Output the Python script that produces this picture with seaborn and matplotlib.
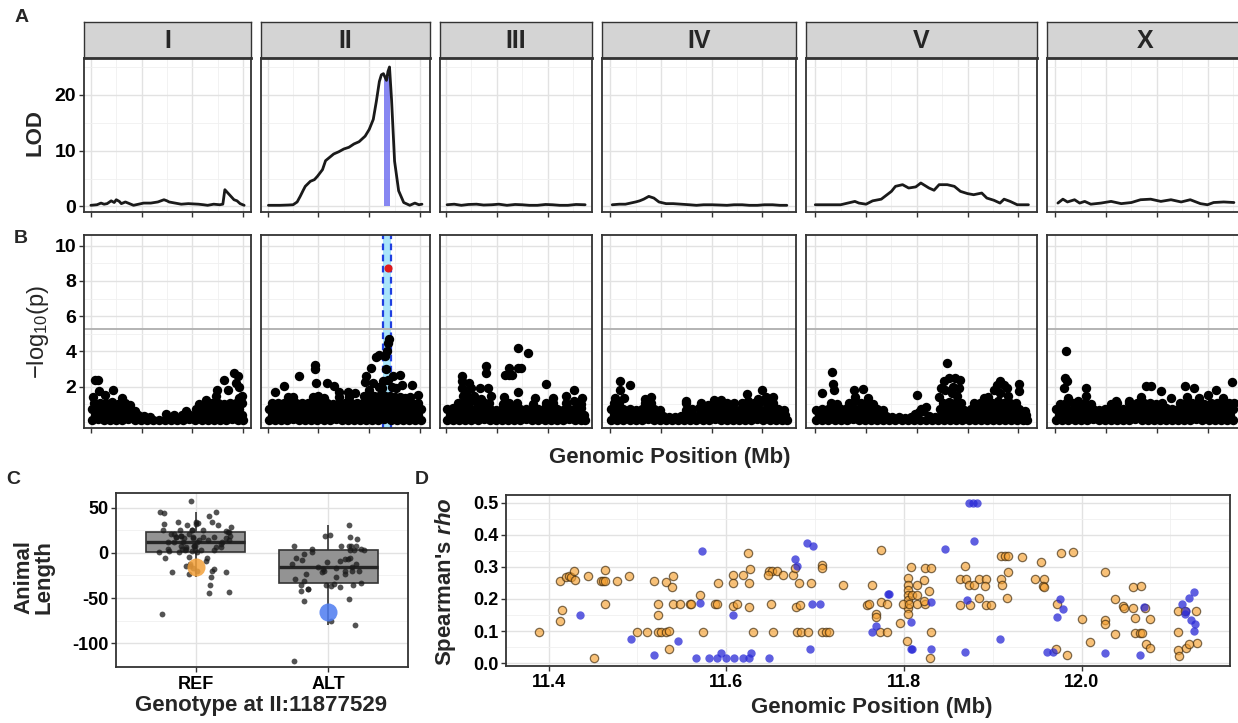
import numpy as np
import pandas as pd
import matplotlib
matplotlib.use("Agg")
import matplotlib.pyplot as plt
import seaborn as sns
from matplotlib.ticker import MultipleLocator, FormatStrFormatter

# ---------------- data ----------------
chroms = ["I", "II", "III", "IV", "V", "X"]
chrom_len = [15.07, 15.28, 13.78, 17.49, 20.92, 17.72]

# panel A: LOD profiles (Mb, LOD)
lod_I = [(0.0, .2), (0.6, .3), (1.0, .6), (1.3, .4), (1.6, .5), (2.0, 1.0), (2.3, .7), (2.5, 1.2),
         (2.8, .9), (3.0, .5), (3.4, .8), (3.8, .5), (4.2, .2), (4.7, .4), (5.2, .6), (5.9, .6), (6.6, .8),
         (7.2, 1.2), (7.5, 1.0), (7.7, .8), (8.3, .6), (8.9, .4), (9.6, .5), (10.6, .4), (11.1, .3),
         (11.5, .2), (12.1, .4), (12.7, .3), (13.0, .4), (13.2, 3.0), (13.5, 2.4), (13.7, 2.0), (14.1, 1.2),
         (14.4, 1.0), (14.7, .5), (15.1, .2)]
lod_II = [(0.07, .2), (1.2, .2), (2.0, .25), (2.5, .3), (2.9, .8), (3.2, 1.8), (3.5, 2.9), (3.7, 3.6),
          (4.2, 4.5), (4.6, 4.8), (4.9, 5.4), (5.4, 6.6), (5.7, 8.2), (6.1, 8.8), (6.5, 9.4), (7.0, 9.8),
          (7.5, 10.3), (8.0, 10.6), (8.5, 11.2), (9.0, 11.6), (9.6, 12.6), (10.0, 13.8), (10.4, 15.6),
          (10.7, 18.8), (11.0, 22.4), (11.2, 23.6), (11.4, 23.8), (11.7, 22.6), (11.85, 24.2), (12.0, 25.0),
          (12.2, 19.2), (12.5, 8.1), (12.9, 2.8), (13.4, .7), (14.0, .2), (14.5, .6), (14.9, .3), (15.2, .4)]
lod_III = [(0.1, .3), (0.8, .4), (1.5, .2), (2.2, .35), (3.0, .4), (3.7, .25), (4.5, .3), (5.2, .4),
           (6.0, .2), (6.8, .35), (7.5, .3), (8.2, .2), (9.0, .2), (9.8, .35), (10.5, .3), (11.2, .2),
           (12.0, .2), (12.8, .35), (13.7, .3)]
lod_IV = [(0.2, .3), (0.9, .4), (1.5, .4), (2.0, .6), (2.5, .8), (2.9, 1.0), (3.3, 1.3), (3.8, 1.8),
          (4.3, 1.5), (4.8, .8), (5.5, .5), (6.2, .5), (7.0, .4), (7.8, .3), (8.5, .2), (9.2, .3),
          (10.0, .3), (10.8, .25), (11.5, .2), (12.2, .3), (13.0, .3), (13.7, .2), (14.5, .2), (15.2, .3),
          (16.0, .3), (16.7, .2), (17.4, .2)]
lod_V = [(0.0, .3), (2.5, .3), (3.9, .9), (4.3, .6), (5.0, .4), (5.65, 1.0), (6.5, 1.3), (7.5, 2.7),
         (7.9, 3.6), (8.6, 3.9), (9.2, 3.3), (9.9, 3.5), (10.4, 4.2), (11.2, 3.3), (11.7, 2.9), (12.2, 3.9),
         (13.0, 3.9), (13.7, 3.6), (14.3, 2.7), (15.0, 2.3), (15.6, 2.1), (16.4, 2.4), (16.9, 1.5),
         (17.6, 1.1), (18.2, .6), (18.6, 1.3), (19.2, .9), (19.9, .3), (21.0, .3)]
lod_X = [(0.26, .6), (0.75, 1.3), (1.2, .8), (1.9, 1.2), (2.4, .6), (2.9, .9), (3.5, .4), (4.5, .6),
         (5.5, .9), (6.5, .5), (7.5, .7), (8.4, 1.2), (9.4, 1.3), (10.4, .9), (11.4, 1.2), (12.4, .8),
         (13.3, 1.2), (14.3, .5), (15.0, .3), (15.6, .7), (16.6, .8), (17.6, .7)]
lod_profiles = [lod_I, lod_II, lod_III, lod_IV, lod_V, lod_X]
qtl_ci = (11.5, 12.0)
qtl_lod = 23.2

# panel B: marker associations (Mb, -log10 p)
snps_I = [(0.1, .12), (0.7, .15), (1.3, .1), (1.9, .14), (2.5, .12), (3.1, .1), (3.7, .16), (4.3, .11),
          (4.9, .13), (5.5, .1), (6.1, .12), (6.7, .09), (7.3, .14), (7.9, .11), (8.5, .13), (9.1, .1),
          (9.7, .15), (10.3, .12), (10.9, .1), (11.5, .14), (12.1, .11), (12.7, .13), (13.3, .1),
          (13.9, .15), (14.5, .12), (15.0, .1),
          (0.4, .42), (1.0, .38), (1.6, .45), (2.2, .4), (2.8, .36), (3.4, .43), (4.0, .4), (4.6, .38),
          (5.2, .35), (5.8, .3), (7.4, .48), (8.2, .38), (9.0, .42), (9.6, .45), (10.2, .4), (10.8, .44),
          (11.4, .38), (12.0, .42), (12.6, .4), (13.2, .45), (13.8, .4), (14.4, .43), (14.9, .38),
          (0.1, .75), (0.7, .7), (1.3, .78), (1.9, .72), (2.5, .75), (3.1, .7), (3.7, .8), (4.3, .65),
          (9.4, .6), (10.4, .75), (11.0, .78), (11.6, .72), (12.2, .76), (12.8, .7), (13.4, .78),
          (14.0, .74), (14.6, .72),
          (0.3, 1.05), (0.9, 1.1), (1.5, 1.08), (2.1, 1.12), (2.7, 1.0), (3.4, 1.05), (3.9, .95),
          (10.7, 1.0), (11.3, 1.1), (11.9, 1.05), (12.5, 1.1), (13.1, 1.0), (13.7, 1.1), (14.3, 1.05),
          (14.9, 1.1),
          (0.2, 1.4), (0.8, 1.75), (1.4, 1.55), (2.2, 1.8), (3.1, 1.35), (11.3, 1.25), (12.3, 1.45),
          (12.4, 1.8), (13.5, 1.8), (0.45, 2.4), (0.75, 2.4), (13.1, 2.4), (14.1, 2.75), (14.3, 2.2),
          (14.45, 2.6), (14.6, 2.0), (14.9, 1.5), (14.6, 1.35)]
snps_II = [(0.1, .1), (0.7, .14), (1.3, .12), (1.9, .09), (2.5, .15), (3.1, .11), (3.7, .13), (4.3, .1),
           (4.9, .14), (5.5, .12), (6.1, .1), (6.7, .15), (7.3, .12), (7.9, .1), (8.5, .13), (9.1, .11),
           (9.7, .14), (10.3, .1), (10.9, .12), (11.5, .15), (12.1, .11), (12.7, .13), (13.3, .1),
           (13.9, .14), (14.5, .12), (15.1, .1),
           (0.4, .42), (1.0, .4), (1.6, .45), (2.2, .38), (2.8, .43), (3.4, .4), (4.0, .44), (4.6, .39),
           (5.2, .42), (5.8, .45), (6.4, .4), (7.0, .43), (7.6, .38), (8.2, .42), (8.8, .45), (9.4, .4),
           (10.0, .43), (10.6, .41), (11.2, .44), (11.8, .4), (12.4, .42), (13.0, .45), (13.6, .39),
           (14.2, .43), (14.8, .4),
           (0.1, .75), (0.7, .72), (1.3, .78), (1.9, .74), (2.5, .7), (3.1, .77), (3.7, .73), (4.3, .76),
           (4.9, .72), (5.5, .78), (6.1, .74), (6.7, .7), (7.3, .76), (7.9, .73), (8.5, .77), (9.1, .72),
           (9.7, .75), (10.3, .78), (10.9, .74), (11.5, .76), (12.1, .72), (12.7, .77), (13.3, .74),
           (13.9, .7), (14.5, .76), (15.1, .72),
           (0.4, 1.08), (1.0, 1.05), (1.6, 1.1), (2.2, 1.04), (2.8, 1.1), (3.4, 1.06), (4.0, 1.1),
           (4.6, 1.05), (5.2, 1.08), (5.8, 1.1), (6.4, 1.04), (7.0, 1.08), (7.6, 1.1), (8.2, 1.06),
           (8.8, 1.1), (9.4, 1.05), (10.0, 1.08), (10.6, 1.1), (11.2, 1.05), (11.8, 1.1), (12.4, 1.06),
           (13.0, 1.1), (13.6, 1.04), (14.2, 1.08), (14.8, 1.05),
           (2.0, 1.4), (2.5, 1.44), (4.5, 1.4), (5.0, 1.45), (5.5, 1.38), (7.0, 1.4), (8.0, 1.42),
           (9.5, 1.45), (10.0, 1.4), (10.5, 1.5), (11.0, 1.45), (11.6, 1.5), (12.0, 1.45), (12.5, 1.4),
           (13.0, 1.44), (13.5, 1.38), (14.0, 1.4),
           (0.7, 1.7), (1.6, 2.06), (3.1, 2.58), (4.7, 3.24), (4.7, 2.99), (4.8, 2.2), (5.8, 2.2),
           (6.5, 2.06), (7.0, 1.72), (7.9, 1.72), (8.6, 1.63), (9.6, 2.25), (9.7, 2.58), (10.2, 3.05),
           (10.65, 3.7), (11.0, 3.8), (11.6, 3.75), (11.8, 4.0), (11.86, 4.47), (11.93, 4.7),
           (12.35, 2.58), (13.0, 2.67), (13.2, 2.1), (14.2, 2.1), (14.8, 1.53), (10.0, 1.8), (10.4, 2.2),
           (11.0, 2.0), (11.4, 2.3), (11.9, 2.4), (12.2, 2.0), (12.6, 1.9), (11.7, 3.0), (11.3, 1.9)]
snps_III = [(0.1, .12), (0.7, .1), (1.3, .14), (1.9, .11), (2.5, .13), (3.1, .1), (3.7, .15), (4.3, .12),
            (4.9, .1), (5.5, .14), (6.1, .11), (6.7, .13), (7.3, .1), (7.9, .15), (8.5, .12), (9.1, .1),
            (9.7, .14), (10.3, .11), (10.9, .13), (11.5, .1), (12.1, .15), (12.7, .12), (13.3, .1),
            (13.7, .13),
            (0.4, .42), (1.0, .45), (1.6, .4), (2.2, .44), (2.8, .38), (3.4, .43), (4.0, .4), (4.6, .45),
            (5.2, .41), (5.8, .39), (6.4, .44), (7.0, .4), (7.6, .43), (8.2, .38), (8.8, .42), (9.4, .45),
            (10.0, .4), (10.6, .43), (11.2, .39), (11.8, .44), (12.4, .41), (13.0, .43), (13.6, .4),
            (0.1, .72), (0.7, .78), (1.3, .75), (1.9, .8), (2.5, .74), (3.1, .78), (3.7, .72), (4.3, .76),
            (4.9, .7), (5.5, .74), (6.1, .68), (6.7, .75), (7.3, .72), (7.9, .76), (8.5, .7), (9.1, .74),
            (9.7, .78), (10.3, .72), (10.9, .75), (11.5, .7), (12.1, .76), (12.7, .73), (13.3, .78),
            (1.2, 1.05), (1.8, 1.1), (2.4, 1.2), (3.0, 1.1), (3.6, 1.15), (4.2, 1.05), (5.6, 1.0),
            (6.2, 1.05), (7.0, 1.1), (8.6, 1.0), (9.8, 1.05), (10.5, 1.1), (11.8, 1.1), (12.6, 1.2),
            (13.3, 1.0),
            (1.6, 2.6), (1.6, 2.3), (1.6, 1.9), (1.7, 1.5), (2.3, 2.2), (2.45, 1.9), (3.3, 1.9), (3.4, 1.3),
            (3.9, 3.2), (3.9, 2.8), (4.1, 1.9), (4.4, 1.5), (5.7, 1.44), (5.8, 2.67), (6.2, 2.67),
            (6.5, 2.67), (6.2, 3.05), (7.1, 4.2), (7.1, 3.05), (7.35, 3.05), (7.1, 1.7), (8.1, 3.9),
            (8.8, 1.35), (9.8, 2.15), (10.5, 1.35), (11.8, 1.45), (12.6, 1.8), (13.4, 1.35), (2.0, 1.6),
            (2.8, 1.5)]
snps_IV = [(0.1, .12), (0.7, .1), (1.3, .14), (1.9, .11), (2.5, .13), (3.1, .1), (3.7, .15), (4.3, .12),
           (4.9, .1), (5.5, .13), (6.1, .1), (6.7, .12), (7.3, .11), (7.9, .14), (8.5, .1), (9.1, .13),
           (9.7, .11), (10.3, .15), (10.9, .12), (11.5, .1), (12.1, .14), (12.7, .11), (13.3, .13),
           (13.9, .1), (14.5, .15), (15.1, .12), (15.7, .1), (16.3, .14), (16.9, .11), (17.4, .13),
           (0.4, .42), (1.0, .45), (1.6, .4), (2.2, .43), (2.8, .38), (3.4, .44), (4.0, .4), (4.6, .42),
           (5.2, .36), (5.8, .3), (6.4, .28), (7.0, .35), (7.6, .42), (8.2, .4), (8.8, .44), (9.4, .41),
           (10.0, .45), (10.6, .4), (11.2, .43), (11.8, .39), (12.4, .44), (13.0, .41), (13.6, .45),
           (14.2, .4), (14.8, .43), (15.4, .39), (16.0, .44), (16.6, .41), (17.2, .4),
           (0.1, .75), (0.7, .78), (1.3, .72), (1.9, .76), (2.5, .7), (3.1, .74), (3.7, .78), (4.3, .72),
           (4.9, .68), (7.5, .7), (8.1, .74), (8.7, .78), (9.3, .72), (9.9, .75), (10.5, .78), (11.1, .72),
           (11.7, .76), (12.3, .7), (12.9, .75), (13.5, .78), (14.1, .72), (14.7, .76), (15.3, .74),
           (15.9, .78), (16.5, .72), (17.1, .7),
           (0.4, 1.05), (0.9, 1.1), (3.4, 1.1), (4.0, 1.05), (7.5, 1.05), (8.9, 1.06), (10.2, 1.05),
           (10.9, 1.1), (11.5, 1.08), (12.2, 1.05), (13.0, 1.1), (13.6, 1.2), (14.2, 1.05), (14.8, 1.15),
           (15.4, 1.1), (16.0, 1.05),
           (1.0, 2.3), (1.0, 1.8), (1.9, 2.1), (0.5, 1.35), (1.4, 1.35), (3.4, 1.3), (4.0, 1.44),
           (7.5, 1.2), (10.2, 1.25), (10.9, 1.25), (13.5, 1.57), (15.0, 1.8), (16.0, 1.44), (15.3, 1.4),
           (14.6, 1.3), (9.6, .95)]
snps_V = [(0.1, .12), (0.7, .1), (1.3, .14), (1.9, .11), (2.5, .13), (3.1, .1), (3.7, .15), (4.3, .12),
          (4.9, .1), (5.5, .14), (6.1, .11), (6.7, .13), (7.3, .1), (7.9, .14), (8.5, .12), (9.1, .1),
          (9.7, .13), (10.3, .11), (10.9, .14), (11.5, .12), (12.1, .1), (12.7, .13), (13.3, .11),
          (13.9, .14), (14.5, .1), (15.1, .13), (15.7, .11), (16.3, .14), (16.9, .12), (17.5, .1),
          (18.1, .13), (18.7, .11), (19.3, .14), (19.9, .12), (20.5, .1), (20.9, .13),
          (0.4, .42), (1.0, .45), (1.6, .4), (2.2, .43), (2.8, .4), (3.4, .44), (4.0, .41), (4.6, .45),
          (5.2, .4), (5.8, .43), (6.4, .38), (7.0, .35), (7.6, .3), (8.2, .26), (8.8, .25), (9.4, .3),
          (9.8, .45), (10.2, .55), (10.6, .62), (11.2, .35), (11.8, .3), (12.4, .4), (13.0, .45),
          (13.6, .42), (14.2, .4), (14.8, .44), (15.4, .41), (16.0, .45), (16.6, .4), (17.2, .43),
          (17.8, .4), (18.4, .44), (19.0, .41), (19.6, .45), (20.2, .4), (20.8, .42),
          (0.1, .7), (0.7, .76), (1.3, .72), (1.9, .78), (2.5, .74), (3.1, .78), (3.7, .72), (4.3, .76),
          (4.9, .74), (5.5, .78), (6.1, .72), (6.7, .7), (10.4, .75), (10.9, .85), (12.3, .75),
          (12.9, .78), (13.5, .72), (14.1, .76), (14.7, .7), (15.3, .74), (15.9, .78), (16.5, .72),
          (17.1, .76), (17.7, .74), (18.3, .78), (18.9, .72), (19.5, .76), (20.1, .74), (20.7, .6),
          (1.5, 1.1), (2.1, 1.0), (3.3, 1.1), (3.9, 1.2), (4.5, 1.05), (5.1, 1.1), (5.7, 1.0),
          (12.6, 1.1), (13.2, 1.15), (13.8, 1.05), (14.4, 1.1), (15.6, 1.05), (16.2, 1.1), (16.8, 1.15),
          (17.4, 1.1), (18.0, 1.2), (18.6, 1.05), (19.2, 1.1), (19.8, 1.05),
          (0.65, 1.63), (1.6, 2.86), (1.7, 2.14), (1.8, 1.8), (3.8, 1.8), (4.7, 1.87), (3.9, 1.4),
          (5.2, 1.35), (10.0, 1.53), (12.2, 1.44), (12.35, 1.9), (13.0, 3.33), (12.7, 2.3), (13.2, 2.5),
          (13.8, 2.5), (14.3, 2.4), (13.5, 1.63), (14.0, 1.5), (12.8, 1.8), (13.6, 2.0), (14.2, 1.9),
          (16.6, 1.35), (17.6, 1.8), (18.2, 2.35), (17.9, 2.1), (18.6, 2.1), (18.9, 1.9), (18.2, 1.67),
          (20.1, 2.16), (20.1, 1.76), (17.0, 1.4), (19.0, 1.45)]
snps_X = [(0.1, .12), (0.7, .1), (1.3, .14), (1.9, .11), (2.5, .13), (3.1, .1), (3.7, .15), (4.3, .12),
          (4.9, .1), (5.5, .14), (6.1, .11), (6.7, .13), (7.3, .1), (7.9, .15), (8.5, .12), (9.1, .1),
          (9.7, .14), (10.3, .11), (10.9, .13), (11.5, .1), (12.1, .14), (12.7, .12), (13.3, .1),
          (13.9, .15), (14.5, .11), (15.1, .13), (15.7, .1), (16.3, .14), (16.9, .12), (17.5, .1),
          (0.4, .42), (1.0, .45), (1.6, .4), (2.2, .43), (2.8, .38), (3.4, .44), (4.0, .4), (4.6, .42),
          (5.2, .39), (5.8, .45), (6.4, .4), (7.0, .43), (7.6, .41), (8.2, .44), (8.8, .4), (9.4, .45),
          (10.0, .41), (10.6, .43), (11.2, .4), (11.8, .44), (12.4, .39), (13.0, .45), (13.6, .41),
          (14.2, .43), (14.8, .4), (15.4, .44), (16.0, .41), (16.6, .45), (17.2, .4),
          (0.1, .72), (0.7, .76), (1.3, .7), (1.9, .78), (2.5, .74), (3.1, .76), (3.7, .72), (4.3, .7),
          (4.9, .74), (5.5, .78), (6.1, .72), (6.7, .76), (7.3, .74), (7.9, .78), (8.5, .72), (9.1, .76),
          (9.7, .7), (10.3, .74), (10.9, .78), (11.5, .72), (12.1, .76), (12.7, .74), (13.3, .78),
          (13.9, .72), (14.5, .76), (15.1, .7), (15.7, .74), (16.3, .78), (16.9, .72), (17.5, .76),
          (0.5, 1.0), (1.1, 1.05), (1.7, 1.1), (2.3, 1.0), (2.9, 1.1), (3.5, 1.0), (5.5, 1.0), (6.1, 1.1),
          (7.3, 1.05), (8.1, 1.1), (8.7, 1.05), (9.3, 1.1), (9.9, 1.0), (10.5, 1.1), (12.3, 1.05),
          (12.9, 1.1), (13.5, 1.05), (14.1, 1.1), (14.7, 1.0), (15.3, 1.1), (15.9, 1.05), (16.5, 1.1),
          (17.1, 1.05), (17.6, 1.1),
          (1.1, 4.05), (1.0, 2.5), (1.15, 2.3), (0.9, 1.9), (1.25, 1.35), (3.0, 1.9), (3.0, 1.5),
          (6.0, 1.2), (7.3, 1.2), (8.4, 1.44), (8.9, 2.06), (9.4, 2.06), (10.4, 1.78), (11.4, 1.35),
          (12.8, 2.06), (13.7, 1.9), (13.0, 1.44), (15.0, 1.53), (15.8, 1.8), (17.4, 2.25), (2.2, 1.2),
          (16.5, 1.35), (14.2, 1.35)]
snp_sets = [snps_I, snps_II, snps_III, snps_IV, snps_V, snps_X]
top_snp = (11.88, 8.73)
bonferroni = 5.28
ci_region = (11.37, 12.12)

# panel C: animal length by genotype at the top marker
genotypes = ["REF", "ALT"]
ref_len = [44, 45, 57, 34, 28, 33, 32, 32, 34, 34, 41, 31, 31, 25, 25, 24, 21, 25, 23, 45, 25, 23, 17, 14,
           16, 12, 12, 17, 14, 16, 12, 8, 6, 8, 4, 10, 6, 4, 3, 1, 2, 3, -6, -14, -17, -20, -23, -21, -21,
           -18, -14, -12, -9, 0.5, -5, 1, -6, -27, -20, -36, -43, -44, -67, 19, 17, 17, 19, 14, 12, 8, 6,
           4, 8, 17, 3, 3, 2, 16, 12, 19, 21, 21, 25]
alt_len = [7, 17, 20, 19, 31, 15, 8, 8, 4, 7, 7, 4, -10, -6, -7, -8, -9, -6, -16, -20, -18, -17, -20, -16,
           -7, -12, -21, -35, -29, -37, -27, -36, -33, -35, -40, -38, -42, -40, -34, -53, -51, -80, -119,
           -75, 3, 3, 1, -1, -12, -20, -23, -20, -23, 3, -31]
strain_len = [-15.5, -65]

# panel D: Spearman's rho along the interval
rho_orange = [(11.389, .096), (11.413, .257), (11.419, .269), (11.423, .270), (11.425, .267), (11.428, .287),
              (11.430, .259), (11.415, .164), (11.413, .131), (11.444, .270), (11.451, .015), (11.459, .257),
              (11.461, .257), (11.463, .257), (11.464, .291), (11.463, .184), (11.477, .257), (11.491, .270),
              (11.500, .096), (11.511, .096), (11.519, .257), (11.523, .184), (11.523, .149), (11.523, .096),
              (11.526, .096), (11.532, .096), (11.535, .100), (11.532, .252), (11.540, .270), (11.539, .236),
              (11.535, .043), (11.540, .184), (11.548, .184), (11.559, .184), (11.560, .184), (11.570, .213),
              (11.574, .096), (11.587, .184), (11.590, .184), (11.591, .251), (11.607, .275), (11.608, .249),
              (11.607, .177), (11.624, .342), (11.627, .294), (11.619, .275), (11.625, .251), (11.612, .184),
              (11.625, .174), (11.630, .096), (11.648, .287), (11.651, .287), (11.647, .275), (11.657, .287),
              (11.664, .275), (11.675, .275), (11.677, .295), (11.682, .251), (11.695, .251), (11.650, .184),
              (11.679, .174), (11.683, .180), (11.652, .096), (11.680, .096), (11.684, .096), (11.692, .096),
              (11.708, .306), (11.708, .295), (11.708, .096), (11.712, .096), (11.716, .096), (11.731, .245),
              (11.764, .245), (11.774, .354), (11.758, .180), (11.761, .184), (11.774, .190), (11.781, .184),
              (11.768, .154), (11.768, .144), (11.773, .096), (11.781, .096), (11.795, .126), (11.803, .070),
              (11.808, .300), (11.804, .265), (11.804, .244), (11.805, .229), (11.804, .213), (11.805, .198),
              (11.805, .172), (11.804, .152), (11.799, .184), (11.806, .184), (11.815, .184), (11.824, .184),
              (11.815, .244), (11.809, .213), (11.815, .213), (11.823, .259), (11.828, .224), (11.824, .295),
              (11.830, .295), (11.830, .096), (11.829, .015), (11.822, .193),
              (11.869, .304), (11.863, .263), (11.870, .263), (11.873, .244), (11.879, .244), (11.884, .263),
              (11.892, .263), (11.891, .241), (11.885, .203), (11.863, .180), (11.874, .180), (11.892, .180),
              (11.898, .180), (11.909, .334), (11.914, .334), (11.917, .334), (11.933, .330), (11.954, .314),
              (11.977, .342), (11.990, .345), (11.917, .285), (11.909, .263), (11.910, .244), (11.916, .203),
              (11.948, .263), (11.958, .263), (11.956, .239), (11.958, .236), (11.972, .183), (12.000, .138),
              (12.009, .067), (11.984, .026), (11.971, .044), (12.026, .284), (12.026, .133), (12.026, .121),
              (12.038, .201), (12.038, .090), (12.046, .177), (12.048, .172), (12.058, .172), (12.058, .236),
              (12.067, .239), (12.060, .142), (12.077, .136), (12.060, .093), (12.066, .093), (12.068, .093),
              (12.073, .059), (12.077, .047), (12.071, .172), (12.109, .162), (12.116, .162), (12.129, .162),
              (12.109, .096), (12.130, .064), (12.108, .041), (12.117, .047), (12.121, .059), (12.110, .021)]
rho_blue = [(11.573, .350), (11.570, .186), (11.435, .150), (11.493, .074), (11.519, .026), (11.546, .070),
            (11.566, .015), (11.580, .015), (11.590, .015), (11.600, .015), (11.609, .015), (11.594, .033),
            (11.607, .150), (11.619, .015), (11.625, .015), (11.648, .015), (11.628, .033), (11.691, .374),
            (11.698, .365), (11.677, .323), (11.680, .304), (11.697, .184), (11.705, .184), (11.694, .043),
            (11.782, .215), (11.783, .215), (11.764, .098), (11.768, .116), (11.808, .129), (11.808, .043),
            (11.809, .043), (11.830, .043), (11.830, .190), (11.846, .356), (11.873, .50), (11.878, .50),
            (11.882, .50), (11.879, .382), (11.871, .197), (11.908, .074), (11.869, .035), (11.961, .035),
            (11.968, .035), (11.976, .201), (11.979, .170), (11.972, .145), (12.026, .031), (12.066, .024),
            (12.070, .174), (12.113, .183), (12.116, .154), (12.121, .203), (12.126, .221), (12.123, .133),
            (12.128, .121), (12.126, .101), (12.117, .162)]

# ---------------- style ----------------
sns.set_theme(style="white")
plt.rcParams["font.family"] = ["Liberation Sans", "DejaVu Sans"]
plt.rcParams["font.weight"] = "bold"
plt.rcParams["axes.unicode_minus"] = False
plt.rcParams["mathtext.fontset"] = "custom"
plt.rcParams["mathtext.rm"] = "Liberation Sans:normal"
plt.rcParams["mathtext.it"] = "Liberation Sans:italic:bold"

W, H = 1238, 723
EDGE = "#333333"
fig = plt.figure(figsize=(W / 100, H / 100), dpi=100)


def box(l, t, r, b):
    return [l / W, 1 - b / H, (r - l) / W, (b - t) / H]


def theme(ax, size):
    ax.set_facecolor("white")
    for sp in ax.spines.values():
        sp.set_visible(True)
        sp.set_color(EDGE)
        sp.set_linewidth(1.3)
    ax.grid(True, which="major", color="#e2e2e2", lw=1.0)
    ax.grid(True, which="minor", color="#f0f0f0", lw=0.6)
    ax.set_axisbelow(True)
    ax.tick_params(which="major", direction="out", length=3.5, width=1, color=EDGE,
                   labelsize=size, labelcolor="black", pad=2, bottom=True, left=True)
    ax.tick_params(which="minor", length=0)
    ax.set_xlabel("")
    ax.set_ylabel("")


def ftext(x, y, s, **kw):
    fig.text(x / W, 1 - y / H, s, ha="center", va="center", **kw)


# ---------------- panels A + B ----------------
x0 = 84
for i, (name, L) in enumerate(zip(chroms, chrom_len)):
    x1 = x0 + L * 1.09 * 10.15
    lim = (-0.045 * L, 1.045 * L)

    strip = fig.add_axes(box(x0, 22.5, x1, 57.5))
    strip.set_facecolor("#d4d4d4")
    strip.set_xticks([]); strip.set_yticks([])
    for sp in strip.spines.values():
        sp.set_color(EDGE); sp.set_linewidth(1.0)
    strip.text(0.5, 0.47, name, transform=strip.transAxes, ha="center", va="center",
               fontsize=18, fontweight="bold")

    # A: LOD
    axA = fig.add_axes(box(x0, 57.5, x1, 212))
    lod = pd.DataFrame(lod_profiles[i], columns=["pos", "lod"])
    if name == "II":
        axA.fill_between(list(qtl_ci), 0, qtl_lod, color="#7272f0", alpha=0.85, lw=0, zorder=2)
    sns.lineplot(data=lod, x="pos", y="lod", ax=axA, color="#1a1a1a", lw=2.0,
                 estimator=None, sort=False, zorder=3)
    theme(axA, 14)
    axA.set_xlim(lim)
    axA.set_ylim(-1.0, 26.7)
    axA.set_yticks([0, 10, 20])
    axA.yaxis.set_minor_locator(MultipleLocator(5))
    axA.xaxis.set_major_locator(MultipleLocator(5))
    axA.xaxis.set_minor_locator(MultipleLocator(2.5))
    axA.tick_params(labelbottom=False)
    axA.spines["top"].set_linewidth(2.0)
    if i > 0:
        axA.tick_params(labelleft=False, left=False)

    # B: Manhattan
    axB = fig.add_axes(box(x0, 235, x1, 428))
    snp = pd.DataFrame(snp_sets[i], columns=["pos", "logp"])
    if name == "II":
        axB.axvspan(*ci_region, color="#a9e4fb", lw=0, zorder=1)
        for edge in ci_region:
            axB.axvline(edge, color="#1f3fe0", lw=1.6, ls=(0, (3, 2)), zorder=2)
    axB.axhline(bonferroni, color="#b3b3b3", lw=1.4, zorder=1.5)
    sns.scatterplot(data=snp, x="pos", y="logp", ax=axB, color="black", s=46, linewidth=0,
                    legend=False, zorder=3)
    if name == "II":
        sns.scatterplot(x=[top_snp[0]], y=[top_snp[1]], ax=axB, color="#e01a1a", s=34,
                        linewidth=0, legend=False, zorder=4)
    theme(axB, 14)
    axB.set_xlim(lim)
    axB.set_ylim(-0.34, 10.6)
    axB.set_yticks([2, 4, 6, 8, 10])
    axB.yaxis.set_minor_locator(MultipleLocator(1))
    axB.xaxis.set_major_locator(MultipleLocator(5))
    axB.xaxis.set_minor_locator(MultipleLocator(2.5))
    axB.tick_params(labelbottom=False)
    if i > 0:
        axB.tick_params(labelleft=False, left=False)

    x0 = x1 + 10

ftext(22, 18, "A", fontsize=14, fontweight="bold")
ftext(21, 239, "B", fontsize=14, fontweight="bold")
ftext(35, 133, "LOD", rotation=90, fontsize=16, fontweight="bold")
ftext(38, 332, r"$-\mathrm{log}_{10}(\mathrm{p})$", rotation=90, fontsize=17)
ftext(670, 458, "Genomic Position (Mb)", fontsize=16, fontweight="bold")

# ---------------- panel C ----------------
axC = fig.add_axes(box(116, 493, 408, 667))
geno = pd.DataFrame({"geno": ["REF"] * len(ref_len) + ["ALT"] * len(alt_len),
                     "length": ref_len + alt_len})
sns.boxplot(data=geno, x="geno", y="length", order=genotypes, color="#939393", saturation=1,
            width=0.75, showfliers=False, showcaps=False, linecolor=EDGE, linewidth=1.2,
            medianprops=dict(linewidth=2.4, color="#262626"), ax=axC)
np.random.seed(7)
sns.stripplot(data=geno, x="geno", y="length", order=genotypes, color="#1a1a1a", size=4.2,
              alpha=0.75, jitter=0.28, linewidth=0, ax=axC, zorder=4)
strains = pd.DataFrame({"geno": genotypes, "length": strain_len})
sns.stripplot(data=strains, x="geno", y="length", hue="geno", order=genotypes, hue_order=genotypes,
              palette=["#f3a13b", "#4d7cf0"], size=13, jitter=False, alpha=0.85, linewidth=0,
              legend=False, ax=axC, zorder=5)
theme(axC, 13)
axC.set_xlim(-0.6, 1.6)
axC.set_ylim(-126, 66)
axC.set_yticks([50, 0, -50, -100])
axC.yaxis.set_minor_locator(MultipleLocator(25))
axC.tick_params(axis="x", labelsize=13, pad=3)

ftext(13, 480, "C", fontsize=14, fontweight="bold")
ftext(34, 577, "Animal\nLength", rotation=90, fontsize=16, fontweight="bold", linespacing=0.95)
ftext(261, 706, "Genotype at II:11877529", fontsize=16, fontweight="bold")

# ---------------- panel D ----------------
axD = fig.add_axes(box(506, 495, 1230, 666))
orange = pd.DataFrame(rho_orange, columns=["pos", "rho"])
blue = pd.DataFrame(rho_blue, columns=["pos", "rho"])
sns.scatterplot(data=orange, x="pos", y="rho", ax=axD, color="#f5a030", edgecolor="#3b2608",
                linewidth=0.9, alpha=0.65, s=36, legend=False, zorder=3)
sns.scatterplot(data=blue, x="pos", y="rho", ax=axD, color="#2a2ad6", linewidth=0, alpha=0.75,
                s=36, legend=False, zorder=3)
theme(axD, 13)
axD.set_xlim(11.352, 12.167)
axD.set_ylim(-0.009, 0.524)
axD.set_xticks([11.4, 11.6, 11.8, 12.0])
axD.xaxis.set_minor_locator(MultipleLocator(0.1))
axD.set_yticks([0, 0.1, 0.2, 0.3, 0.4, 0.5])
axD.yaxis.set_minor_locator(MultipleLocator(0.05))
axD.xaxis.set_major_formatter(FormatStrFormatter("%.1f"))
axD.yaxis.set_major_formatter(FormatStrFormatter("%.1f"))

ftext(422, 480, "D", fontsize=14, fontweight="bold")
ftext(446, 582, r"Spearman's $\mathit{rho}$", rotation=90, fontsize=16, fontweight="bold")
ftext(872, 708, "Genomic Position (Mb)", fontsize=16, fontweight="bold")

fig.savefig("out.png", dpi=100)
